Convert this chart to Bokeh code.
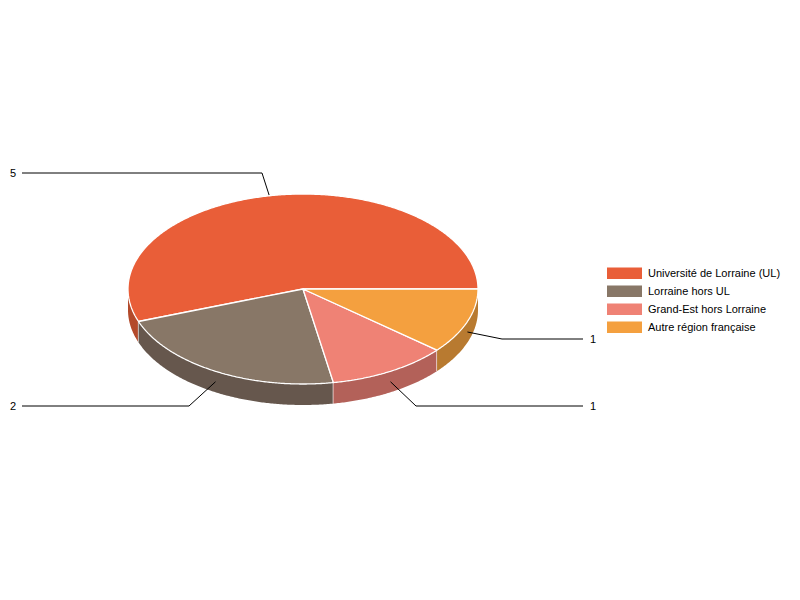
import math
from bokeh.embed import file_html
from bokeh.resources import INLINE
from bokeh.plotting import figure
from bokeh.models import Range1d
from bokeh.core.properties import value

categories = ["Université de Lorraine (UL)", "Lorraine hors UL", "Grand-Est hors Lorraine", "Autre région française"]
values = [5, 2, 1, 1]
top_colors = ["#E95E38", "#887767", "#EF8275", "#F4A03F"]
side_colors = ["#B34A2B", "#66574D", "#B36159", "#B87A30"]

# layout, in page pixels
CX, CY, RX, RY, DEPTH = 303, 289, 175, 95, 21
label_y = [173, 406, 406, 339]
label_side = ["left", "left", "right", "right"]
elbow_x = [262, 189, 416, 502]
LEFT_END, RIGHT_END, LEFT_TX, RIGHT_TX = 22, 583, 10, 590
KEY_X0, KEY_X1, KEY_Y0, KEY_H, KEY_STEP, KEY_TX = 607, 642, 267.5, 11.5, 18, 648
FONT = value("Liberation Sans")

p = figure(width=784, height=584, output_backend="svg", toolbar_location=None,
           x_range=Range1d(0.5, 784.5), y_range=Range1d(584.5, 0.5),
           min_border=0, outline_line_color=None, background_fill_color="white")
p.axis.visible = False
p.grid.visible = False


def pt(deg, dy=0):
    a = math.radians(deg)
    return CX + RX * math.cos(a), CY - RY * math.sin(a) + dy


def arc(a0, a1):
    n = max(2, int(abs(a1 - a0) * 2))
    return [a0 + (a1 - a0) * i / n for i in range(n + 1)]


total = sum(values)
bounds = [0]
for v in values:
    bounds.append(bounds[-1] + 360 * v / total)

# side walls: only the front half of the disc is visible
for i in range(len(values)):
    a0, a1 = max(bounds[i], 180), min(bounds[i + 1], 360)
    if a1 <= a0:
        continue
    angles = arc(a0, a1)
    xs = [pt(a)[0] for a in angles]
    top = [pt(a)[1] for a in angles]
    bottom = [pt(a, DEPTH)[1] for a in angles]
    p.patch(xs + xs[::-1], top + bottom[::-1], fill_color=side_colors[i], line_color=None)
    x_end = pt(a1)[0]
    if a1 < 360:
        p.line([x_end, x_end], [pt(a1)[1], pt(a1, DEPTH)[1]], line_color="white", line_width=1.3)

# leader lines: over the side walls, under the top faces
for i in range(len(values)):
    mid = (bounds[i] + bounds[i + 1]) / 2
    ax, ay = pt(mid, DEPTH / 2)
    end = LEFT_END if label_side[i] == "left" else RIGHT_END
    p.line([ax, elbow_x[i], end], [ay, label_y[i], label_y[i]], line_color="black", line_width=1)
    p.text([LEFT_TX if label_side[i] == "left" else RIGHT_TX], [label_y[i]], text=[str(values[i])],
           text_font=FONT, text_font_size="11px", text_color="black",
           text_align="left", text_baseline="middle")

# top faces
for i in range(len(values)):
    angles = arc(bounds[i], bounds[i + 1])
    xs = [CX] + [pt(a)[0] for a in angles]
    ys = [CY] + [pt(a)[1] for a in angles]
    p.patch(xs, ys, fill_color=top_colors[i], line_color="white", line_width=1.3)

# legend
for i, name in enumerate(categories):
    y0 = KEY_Y0 + i * KEY_STEP
    p.quad(left=[KEY_X0], right=[KEY_X1], top=[y0], bottom=[y0 + KEY_H],
           fill_color=top_colors[i], line_color=None)
    p.text([KEY_TX], [y0 + KEY_H / 2], text=[name], text_font=FONT, text_font_size="11px",
           text_color="black", text_align="left", text_baseline="middle")

open("out.html", "w").write(file_html(p, INLINE))
